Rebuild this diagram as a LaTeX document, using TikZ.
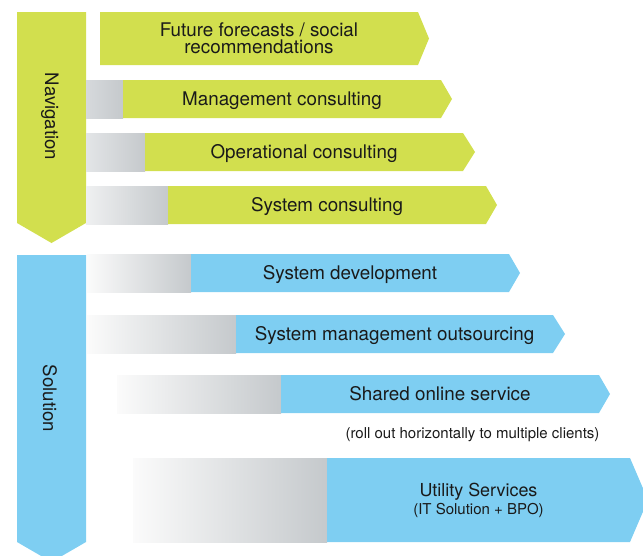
\documentclass[tikz,border=0pt]{standalone}
\usepackage{fontspec}
\setmainfont{TeX Gyre Heros}
\definecolor{navgreen}{HTML}{D2DF4E}
\definecolor{solblue}{HTML}{7ECEF2}
\definecolor{barGray}{HTML}{C5C9CC}
\definecolor{txtc}{HTML}{1A1A1A}
\definecolor{fadeA}{HTML}{D6D9DC}
\definecolor{fadeB}{HTML}{E3E5E7}
\definecolor{fadeC}{HTML}{EFF0F1}
\definecolor{fadeD}{HTML}{FBFBFB}
% #1 top y, #2 bottom y, #3 gray start x, #4 colour start x, #5 body end x, #6 tip x, #7 colour, #8 fade start colour
\newcommand\mkbar[8]{%
  \shade[left color=#8, right color=barGray] (#3,#1) rectangle (#4,#2);
  \fill[#7] (#4,#1) -- (#5,#1) -- (#6,{(#1+#2)/2}) -- (#5,#2) -- (#4,#2) -- cycle;
}
\begin{document}
\begin{tikzpicture}[x=1pt,y=-1pt,
  lbl/.style={text=txtc, font=\fontsize{18.8}{16.7}\selectfont, inner sep=0pt},
  sublbl/.style={text=txtc, font=\fontsize{15}{17}\selectfont, inner sep=0pt},
  vlbl/.style={text=txtc, font=\fontsize{18.6}{20}\selectfont, inner sep=0pt, rotate=-90}]
\useasboundingbox (0,0) rectangle (643,555);
\clip (0,0) rectangle (643,555);

% vertical arrows
\fill[navgreen] (17,12) -- (86,12) -- (86,223) -- (51.5,243) -- (17,223) -- cycle;
\fill[solblue] (17,255) -- (86,255) -- (86,542) -- (51.5,562) -- (17,542) -- cycle;
\node[vlbl] (nav) at (50,116.5) {Navigation};
\node[vlbl] (sol) at (50,398.5) {Solution};

% green bars
\fill[navgreen] (100,12) -- (418,12) -- (429,38.5) -- (418,65) -- (100,65) -- cycle;
\mkbar{80}{118}{86}{123}{441}{452}{navgreen}{fadeA}
\mkbar{133}{171}{86}{145}{463}{475}{navgreen}{fadeB}
\mkbar{186}{224}{86}{168}{486}{497}{navgreen}{fadeC}

% blue bars
\mkbar{254}{292}{87}{191}{509}{520}{solblue}{fadeD}
\mkbar{315}{353}{87}{236}{553}{565}{solblue}{fadeD}
\mkbar{375}{413}{117}{281}{599}{610}{solblue}{fadeD}
\mkbar{458}{542}{133}{327}{630}{648}{solblue}{fadeD}

% labels
\node[lbl, anchor=base] (fut) at (259,36.5) {Future forecasts / social};
\node[lbl, anchor=base] (futb) at (259,53.2) {recommendations};
\node[lbl, anchor=base] (mgmt) at (282,105.5) {Management consulting};
\node[lbl, anchor=base] (oper) at (304,158.5) {Operational consulting};
\node[lbl, anchor=base] (sysc) at (327,211.5) {System consulting};
\node[lbl, anchor=base] (sysd) at (350,279.5) {System development};
\node[lbl, anchor=base] (sysm) at (394.5,340.5) {System management outsourcing};
\node[lbl, anchor=base] (shrd) at (440,400.5) {Shared online service};
\node[sublbl, anchor=base] (roll) at (472.5,438.5) {(roll out horizontally to multiple clients)};
\node[lbl, anchor=base, font=\fontsize{17.9}{20}\selectfont] (util) at (478.5,496) {Utility Services};
\node[sublbl, anchor=base] (utilsub) at (478.5,514) {(IT Solution + BPO)};
\end{tikzpicture}
\end{document}
